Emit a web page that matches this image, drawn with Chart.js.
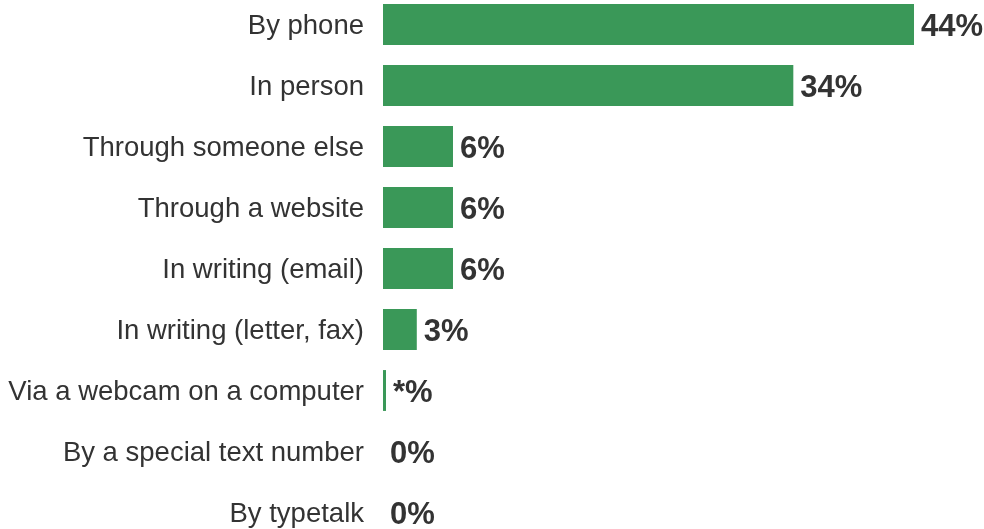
<!DOCTYPE html>
<html>
<head>
<meta charset="utf-8">
<script src="https://cdn.jsdelivr.net/npm/chart.js@4"></script>
<style>
  html, body { margin: 0; padding: 0; background: #fff; overflow: hidden; }
  #wrap { position: absolute; left: 0; top: -6px; width: 984px; height: 549px; }
</style>
</head>
<body>
<div id="wrap"><canvas id="contactChart"></canvas></div>
<script>
// données
const categories = [
    'By phone',
    'In person',
    'Through someone else',
    'Through a website',
    'In writing (email)',
    'In writing (letter, fax)',
    'Via a webcam on a computer',
    'By a special text number',
    'By typetalk'
];
const values = [44, 34, 5.8, 5.8, 5.8, 2.8, 0.25, 0, 0];
const valueLabels = ['44%', '34%', '6%', '6%', '6%', '3%', '*%', '0%', '0%'];

// étiquettes de valeur en gras au bout des barres
const valueLabelPlugin = {
    id: 'valueLabels',
    afterDatasetsDraw(chart) {
        const ctx = chart.ctx;
        const meta = chart.getDatasetMeta(0);
        ctx.save();
        ctx.font = 'bold 31px "Liberation Sans", Arial, sans-serif';
        ctx.fillStyle = '#333333';
        ctx.textAlign = 'left';
        ctx.textBaseline = 'middle';
        meta.data.forEach((bar, i) => {
            ctx.fillText(valueLabels[i], bar.x + 7, bar.y + 3);
        });
        ctx.restore();
    }
};

const ctx = document.getElementById('contactChart').getContext('2d');
new Chart(ctx, {
    type: 'bar',
    data: {
        labels: categories,
        datasets: [{
            data: values,
            backgroundColor: '#3a9858',
            borderWidth: 0,
            barPercentage: 0.67,
            categoryPercentage: 1
        }]
    },
    options: {
        indexAxis: 'y',
        responsive: true,
        maintainAspectRatio: false,
        animation: false,
        layout: { padding: 0 },
        scales: {
            x: {
                min: 0,
                max: 49.8,
                display: false
            },
            y: {
                grid: { display: false, drawTicks: false },
                border: { display: false },
                ticks: {
                    color: '#333333',
                    padding: 19,
                    labelOffset: 2,
                    font: { family: '"Liberation Sans", Arial, sans-serif', size: 27.5 }
                },
                afterFit(scale) {
                    scale.width = 383;
                    scale.paddingTop = 0;
                    scale.paddingBottom = 0;
                }
            }
        },
        plugins: {
            legend: { display: false },
            tooltip: { enabled: false }
        }
    },
    plugins: [valueLabelPlugin]
});
</script>
</body>
</html>
